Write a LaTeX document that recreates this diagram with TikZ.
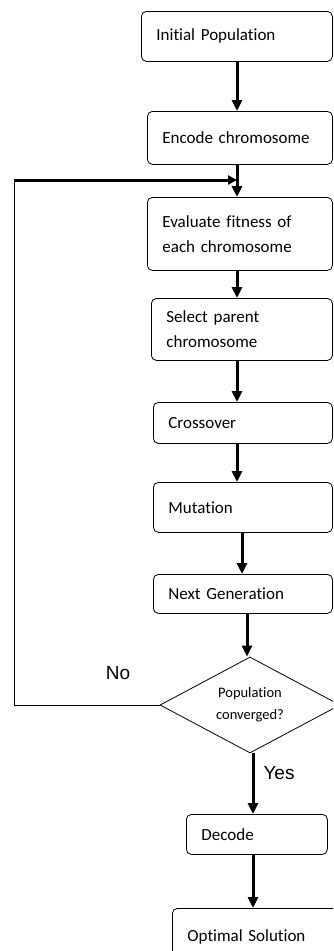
\documentclass[tikz,border=0pt]{standalone}
\usepackage{fontspec}
\setmainfont{Carlito}[Ligatures=CommonOff]
\newfontfamily\arialf{Liberation Sans}
\usetikzlibrary{shapes.geometric,arrows.meta,calc}
\begin{document}
\begin{tikzpicture}[x=1pt,y=-1pt,
  box/.style={draw, line width=0.8pt, rounded corners=5pt, inner xsep=15pt, inner ysep=0pt,
    align=left, font=\fontsize{17}{25}\selectfont, anchor=north west},
  arr/.style={line width=3pt, -{Triangle[length=11pt,width=10pt]}},
  lbl/.style={font=\arialf\fontsize{19}{22}\selectfont}]
\useasboundingbox (0,0) rectangle (333,951);
\clip (0,0) rectangle (333,951);
\fill[white] (0,0) rectangle (333,951);
% boxes: width w, text width w-30
\node[box, minimum width=191pt, minimum height=50pt, text width=161pt] (A) at (141,11) {Initial Population\\[-4pt]};
\node[box, minimum width=185pt, minimum height=53pt, text width=155pt] (B) at (147,111) {Encode chromosome\\[-4pt]};
\node[box, minimum width=185pt, minimum height=73pt, text width=155pt] (C) at (147,197) {Evaluate fitness of\\each chromosome};
\node[box, minimum width=181pt, minimum height=62pt, text width=151pt] (D) at (151,298) {Select parent\\chromosome};
\node[box, minimum width=179pt, minimum height=41pt, text width=149pt] (E) at (153,402) {Crossover};
\node[box, minimum width=179pt, minimum height=50pt, text width=149pt] (F) at (153,482) {Mutation\\[-4pt]};
\node[box, minimum width=179pt, minimum height=39pt, text width=149pt] (G) at (153,574) {Next Generation};
\node[draw, line width=0.8pt, diamond, inner sep=-12pt, minimum width=180pt, minimum height=96pt,
  align=center, font=\fontsize{14.5}{22}\selectfont] (H) at (250,705) {Population\\converged?};
\node[box, minimum width=141pt, minimum height=40pt, text width=111pt] (I) at (186,814) {Decode};
\node[box, minimum width=173pt, minimum height=57pt, text width=143pt] (J) at (172,908) {Optimal Solution\\[14pt]};
% columns
\coordinate (x1) at (237,0);
\coordinate (x2) at (242,0);
\coordinate (x3) at (247,0);
\coordinate (x4) at (253,0);
\draw[arr] (A.south -| x1) -- (B.north -| x1);
\draw[arr] (B.south -| x1) -- (C.north -| x1);
\draw[arr] (C.south -| x1) -- (D.north -| x1);
\draw[arr] (D.south -| x1) -- (E.north -| x1);
\draw[arr] (E.south -| x1) -- (F.north -| x1);
\draw[arr] (F.south -| x2) -- (G.north -| x2);
\draw[arr] (G.south -| x3) -- (H.north -| x3);
\draw[arr] (H.south -| x4) -- (I.north -| x4);
\draw[arr] (I.south -| x4) -- (J.north -| x4);
% feedback
\coordinate (lb) at (14,705);
\coordinate (lt) at (14,180);
\coordinate (m) at (237,180);
\draw[line width=1pt] (H.west) -- (lb) -- (lt);
\draw[line width=3pt, -{Triangle[length=9pt,width=9pt]}] ([xshift=-0.5pt]lt) -- (m);
\node[lbl] (no) at (118,673) {No};
\node[lbl] (yes) at (279,773) {Yes};
\end{tikzpicture}
\end{document}
